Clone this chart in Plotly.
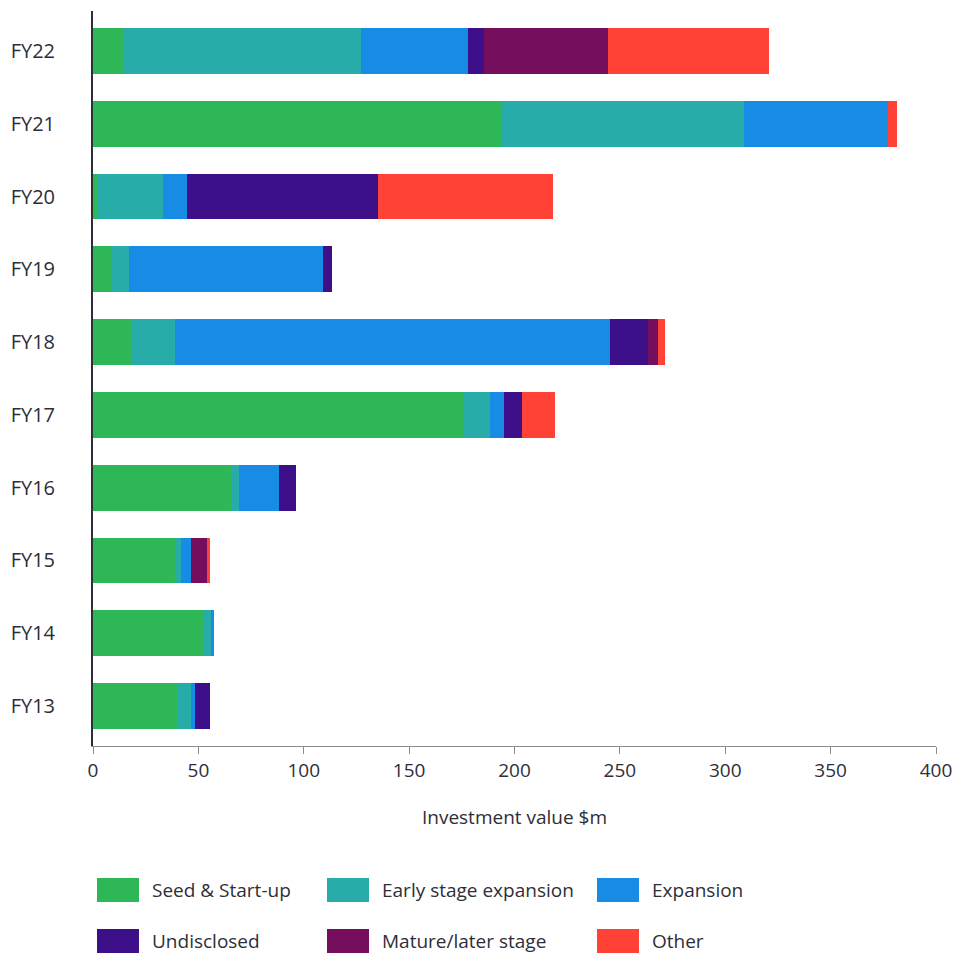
import plotly.graph_objects as go

# Financial years, listed bottom-to-top
years = ["FY13", "FY14", "FY15", "FY16", "FY17", "FY18", "FY19", "FY20", "FY21", "FY22"]

# Investment value ($m) by stage
seed_startup = [39.9, 52.3, 39.1, 65.5, 175.9, 18.0, 8.5, 2.0, 194.0, 14.4]
early_stage = [6.6, 3.7, 2.7, 3.8, 12.5, 20.9, 8.6, 31.2, 115.0, 112.8]
expansion = [1.9, 1.4, 4.7, 19.0, 6.6, 206.4, 92.0, 11.4, 68.0, 50.7]
undisclosed = [7.1, 0.0, 0.0, 8.0, 8.6, 18.0, 4.3, 90.5, 0.0, 7.6]
mature_later = [0.0, 0.0, 7.6, 0.0, 0.0, 4.8, 0.0, 0.0, 0.0, 58.9]
other = [0.0, 0.0, 1.4, 0.0, 15.6, 3.3, 0.0, 83.2, 4.5, 76.4]

series_names = ["Seed & Start-up", "Early stage expansion", "Expansion",
                "Undisclosed", "Mature/later stage", "Other"]
series_values = [seed_startup, early_stage, expansion, undisclosed, mature_later, other]
colors = ["#2DB757", "#27ACAA", "#188CE5", "#3D108A", "#750E5C", "#FF4136"]

x_ticks = [0, 50, 100, 150, 200, 250, 300, 350, 400]

FONT = "'Open Sans', Lato, sans-serif"
TEXT = "#2E2E38"

fig = go.Figure()
for name, vals, col in zip(series_names, series_values, colors):
    fig.add_trace(go.Bar(
        y=years, x=vals, name=name, orientation="h",
        marker=dict(color=col, line=dict(width=0)),
        showlegend=False,
    ))

# Legend drawn as large swatches with labels, 3 columns x 2 rows
col_x = [97, 327, 597]
row_y = [890, 941]
W, H = 974, 956
for i, (name, col) in enumerate(zip(series_names, colors)):
    cx = col_x[i % 3]
    cy = row_y[i // 3]
    fig.add_shape(type="rect", xref="paper", yref="paper",
                  x0=(cx - 93) / (936 - 93), x1=(cx + 42 - 93) / (936 - 93),
                  y0=(746 - (cy + 12)) / (746 - 11), y1=(746 - (cy - 12)) / (746 - 11),
                  fillcolor=col, line=dict(width=0))
    fig.add_annotation(xref="paper", yref="paper",
                       x=(cx + 53 - 93) / (936 - 93), y=(746 - cy) / (746 - 11),
                       text=name, showarrow=False, xanchor="left", yanchor="middle",
                       font=dict(family=FONT, size=19, color=TEXT))

fig.update_layout(
    barmode="stack",
    bargap=0.37,
    width=W, height=H,
    margin=dict(l=93, r=38, t=11, b=210),
    plot_bgcolor="white", paper_bgcolor="white",
    font=dict(family=FONT, color=TEXT),
    xaxis=dict(
        range=[0, 400], tickvals=x_ticks, ticktext=[str(v) for v in x_ticks],
        showgrid=False, zeroline=False,
        showline=True, linecolor="#8A8A8F", linewidth=1,
        ticks="outside", ticklen=7, tickcolor="#8A8A8F",
        tickfont=dict(family=FONT, size=19, color=TEXT),
        title=dict(text="Investment value $m", standoff=28,
                   font=dict(family=FONT, size=19, color=TEXT)),
    ),
    yaxis=dict(
        categoryorder="array", categoryarray=years,
        range=[-0.55, 9.55],
        showgrid=False, zeroline=False,
        showline=True, linecolor="#2E2E38", linewidth=2,
        ticks="", ticklabelstandoff=32,
        tickfont=dict(family=FONT, size=20, color=TEXT),
    ),
)

fig.write_html("out.html")
